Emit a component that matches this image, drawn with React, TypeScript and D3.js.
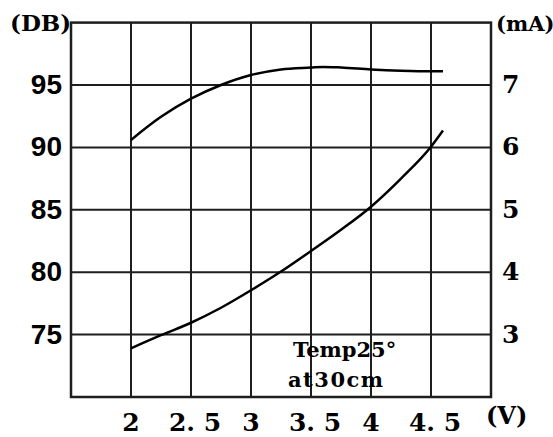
import React from "react";
import * as d3 from "d3";

// voltage grid and tick labels
const vTicks = [2, 2.5, 3, 3.5, 4, 4.5];
const vLabels = ["2", "2. 5", "3", "3. 5", "4", "4. 5"];
const dbTicks = [75, 80, 85, 90, 95];
const maTicks = [3, 4, 5, 6, 7];

// sound level curve (DB)
const dbVolts = [2, 2.25, 2.5, 2.75, 3, 3.25, 3.5, 3.6, 3.75, 4, 4.25, 4.5, 4.6];
const dbValues = [90.6, 92.45, 93.9, 95.0, 95.8, 96.25, 96.4, 96.45, 96.4, 96.25, 96.15, 96.1, 96.1];

// current curve (mA)
const maVolts = [2, 2.25, 2.5, 2.75, 3, 3.25, 3.5, 3.75, 4, 4.25, 4.5, 4.6];
const maValues = [2.78, 2.99, 3.19, 3.43, 3.71, 4.01, 4.34, 4.68, 5.05, 5.5, 6.01, 6.27];

const W = 553;
const H = 437;
const left = 71;
const right = 491;
const top = 22.6;
const bottom = 397;

const App = () => {
    const x = d3.scaleLinear().domain([1.5, 5]).range([left, right]);
    const yDb = d3.scaleLinear().domain([70, 100]).range([bottom, top]);
    const yMa = d3.scaleLinear().domain([2, 8]).range([bottom, top]);

    const dbLine = d3
        .line<number>()
        .x((d, i) => x(dbVolts[i]))
        .y((d) => yDb(d))
        .curve(d3.curveMonotoneX);
    const maLine = d3
        .line<number>()
        .x((d, i) => x(maVolts[i]))
        .y((d) => yMa(d))
        .curve(d3.curveMonotoneX);

    const ink = "#1e1e1e";
    const serif = "'DejaVu Serif', serif";

    return (
        <svg
            width={W}
            height={H}
            style={{ position: "absolute", left: 0, top: 0, background: "#fff" }}
        >
            {/* grid */}
            {vTicks.map((v) => (
                <line key={`v${v}`} x1={x(v)} x2={x(v)} y1={top} y2={bottom} stroke={ink} strokeWidth={2} />
            ))}
            {dbTicks.map((d) => (
                <line key={`h${d}`} x1={left} x2={right} y1={yDb(d)} y2={yDb(d)} stroke={ink} strokeWidth={2} />
            ))}
            <rect x={left} y={top} width={right - left} height={bottom - top} fill="none" stroke={ink} strokeWidth={2.5} />

            {/* curves */}
            <path d={dbLine(dbValues) || ""} fill="none" stroke="#000" strokeWidth={2.5} />
            <path d={maLine(maValues) || ""} fill="none" stroke="#000" strokeWidth={2.5} />

            {/* left axis */}
            {dbTicks.map((d) => (
                <text key={`l${d}`} x={62} y={yDb(d) + 9} textAnchor="end"
                    fontFamily="'Liberation Sans', Arial, sans-serif" fontWeight="bold" fontSize={28} fill="#000">
                    {d}
                </text>
            ))}
            <text x={10} y={31} fontFamily={serif} fontWeight="bold" fontSize={23} fill="#000">(DB)</text>

            {/* right axis */}
            {maTicks.map((m) => (
                <text key={`r${m}`} x={502} y={yMa(m) + 8} textAnchor="start"
                    fontFamily={serif} fontWeight="bold" fontSize={25} fill="#000">
                    {m}
                </text>
            ))}
            <text x={496} y={31} fontFamily={serif} fontWeight="bold" fontSize={21} fill="#000">(mA)</text>

            {/* bottom axis */}
            {vTicks.map((v, i) => (
                <text key={`b${v}`} x={x(v) + (i % 2 ? 4 : 0)} y={431} textAnchor="middle"
                    fontFamily={serif} fontWeight="bold" fontSize={25} fill="#000">
                    {vLabels[i]}
                </text>
            ))}
            <text x={486} y={424} fontFamily={serif} fontWeight="bold" fontSize={24} fill="#000">(V)</text>

            {/* note */}
            <text x={293} y={357} fontFamily={serif} fontWeight="bold" fontSize={21} fill="#000">Temp25°</text>
            <text x={288} y={387} fontFamily={serif} fontWeight="bold" fontSize={21} letterSpacing={1.5} fill="#000">at30cm</text>
        </svg>
    );
};

export default App;
